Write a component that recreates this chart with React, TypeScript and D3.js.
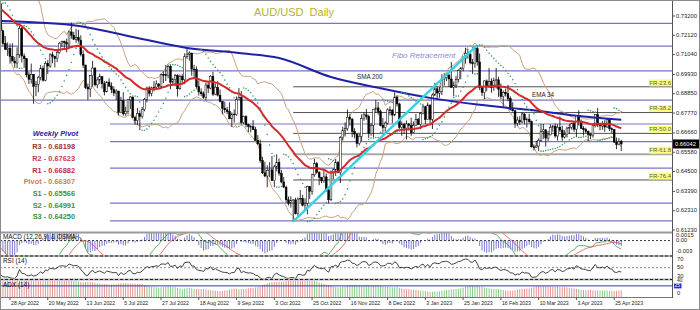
import React from 'react';
import * as d3 from 'd3';

// Daily AUD/USD bars, [open, high, low, close] in 1/10000 units, one array per month
const apr22 = [
  [7388, 7392, 7232, 7237], [7237, 7241, 7155, 7167], [7167, 7208, 7129, 7134], [7134, 7172, 7096, 7140],
  [7140, 7166, 7054, 7094], [7094, 7168, 7067, 7068],
];
const may22 = [
  [7068, 7090, 7030, 7057], [7057, 7145, 7028, 7103], [7103, 7266, 7086, 7250], [7250, 7258, 7060, 7096],
  [7096, 7110, 7030, 7081], [7081, 7083, 6977, 6991], [6991, 7008, 6940, 6966], [6966, 7054, 6942, 6994],
  [6994, 6996, 6829, 6926], [6926, 6956, 6871, 6938], [6938, 6986, 6893, 6977], [6977, 7046, 6960, 7027],
  [7027, 7042, 6953, 6961], [6961, 7068, 6955, 7055], [7055, 7073, 6995, 7040], [7040, 7112, 7030, 7103],
  [7103, 7120, 7056, 7095], [7095, 7098, 7032, 7082], [7082, 7136, 7062, 7117], [7117, 7173, 7110, 7168],
  [7168, 7182, 7147, 7178], [7178, 7183, 7138, 7171],
];
const jun22 = [
  [7171, 7193, 7117, 7163], [7163, 7238, 7138, 7231], [7231, 7283, 7193, 7212], [7212, 7232, 7185, 7190],
  [7190, 7248, 7170, 7200], [7200, 7243, 7175, 7185], [7185, 7212, 7094, 7105], [7105, 7128, 7030, 7046],
  [7046, 7046, 6911, 6920], [6920, 6942, 6850, 6912], [6912, 6990, 6867, 6986], [6986, 7069, 6925, 7029],
  [7029, 7033, 6926, 6935], [6935, 6978, 6916, 6962], [6962, 6997, 6940, 6981], [6981, 6982, 6914, 6941],
  [6941, 6956, 6876, 6896], [6896, 6956, 6893, 6950], [6950, 6971, 6922, 6928], [6928, 6948, 6888, 6909],
  [6909, 6926, 6872, 6889], [6889, 6911, 6850, 6900],
];
const jul22 = [
  [6900, 6902, 6764, 6780], [6780, 6868, 6776, 6846], [6846, 6894, 6762, 6773], [6773, 6812, 6762, 6787],
  [6787, 6855, 6770, 6851], [6851, 6872, 6800, 6867], [6867, 6868, 6750, 6752], [6752, 6762, 6712, 6736],
  [6736, 6805, 6710, 6774], [6774, 6792, 6681, 6758], [6758, 6811, 6747, 6797], [6797, 6862, 6787, 6854],
  [6854, 6925, 6836, 6917], [6917, 6927, 6870, 6888], [6888, 6925, 6871, 6918], [6918, 6956, 6898, 6922],
  [6922, 6960, 6906, 6940], [6940, 6943, 6913, 6927], [6927, 6997, 6911, 6993], [6993, 7010, 6945, 6992],
  [6992, 7046, 6956, 6987],
];
const aug22 = [
  [6987, 7048, 6972, 7038], [7038, 7047, 6910, 6950], [6950, 6975, 6930, 6965], [6965, 6995, 6927, 6987],
  [6987, 6994, 6869, 6913], [6913, 6992, 6907, 6983], [6983, 6995, 6937, 6963], [6963, 7111, 6939, 7092],
  [7092, 7137, 7079, 7107], [7107, 7122, 7070, 7113], [7113, 7113, 6986, 7023], [7023, 7047, 6973, 7020],
  [7020, 7038, 6915, 6925], [6925, 6959, 6875, 6895], [6895, 6915, 6872, 6885], [6885, 6898, 6857, 6865],
  [6865, 6948, 6848, 6934], [6934, 6951, 6888, 6917], [6917, 6989, 6910, 6983], [6983, 7008, 6872, 6883],
  [6883, 6942, 6877, 6922], [6922, 6956, 6870, 6877], [6877, 6909, 6837, 6842],
];
const sep22 = [
  [6842, 6843, 6770, 6804], [6804, 6840, 6778, 6795], [6795, 6811, 6770, 6785], [6785, 6837, 6743, 6745],
  [6745, 6781, 6699, 6771], [6771, 6797, 6724, 6768], [6768, 6870, 6762, 6852], [6852, 6917, 6850, 6865],
  [6865, 6900, 6717, 6724], [6724, 6762, 6715, 6757], [6757, 6765, 6697, 6712], [6712, 6718, 6671, 6701],
  [6701, 6710, 6669, 6701], [6701, 6738, 6682, 6685], [6685, 6700, 6622, 6625], [6625, 6654, 6597, 6605],
  [6605, 6628, 6499, 6512], [6512, 6532, 6436, 6443], [6443, 6505, 6418, 6425], [6425, 6485, 6363, 6457],
  [6457, 6502, 6418, 6459], [6459, 6537, 6397, 6399],
];
const oct22 = [
  [6399, 6488, 6363, 6476], [6476, 6547, 6451, 6502], [6502, 6523, 6427, 6441], [6441, 6459, 6384, 6392],
  [6392, 6420, 6357, 6363], [6363, 6370, 6276, 6292], [6292, 6310, 6260, 6273], [6273, 6311, 6248, 6287],
  [6287, 6296, 6170, 6291], [6291, 6304, 6210, 6214], [6214, 6305, 6202, 6296], [6296, 6346, 6276, 6300],
  [6300, 6320, 6254, 6262], [6262, 6300, 6229, 6272], [6272, 6370, 6211, 6366], [6366, 6368, 6297, 6340],
  [6340, 6438, 6320, 6432], [6432, 6522, 6421, 6494], [6494, 6504, 6438, 6445], [6445, 6452, 6374, 6418],
  [6418, 6420, 6385, 6398],
];
const nov22 = [
  [6398, 6464, 6387, 6420], [6420, 6440, 6338, 6347], [6347, 6360, 6272, 6292], [6292, 6456, 6285, 6447],
  [6447, 6468, 6408, 6460], [6460, 6520, 6425, 6500], [6500, 6509, 6440, 6445], [6445, 6648, 6386, 6640],
  [6640, 6700, 6625, 6680], [6680, 6725, 6646, 6690], [6690, 6797, 6678, 6754], [6754, 6772, 6706, 6743],
  [6743, 6750, 6642, 6674], [6674, 6692, 6636, 6660], [6660, 6662, 6585, 6607], [6607, 6660, 6596, 6647],
  [6647, 6770, 6620, 6747], [6747, 6782, 6734, 6767], [6767, 6800, 6740, 6758], [6758, 6768, 6637, 6662],
  [6662, 6722, 6650, 6708], [6708, 6800, 6640, 6798],
];
const dec22 = [
  [6798, 6851, 6780, 6806], [6806, 6839, 6768, 6785], [6785, 6797, 6703, 6708], [6708, 6750, 6668, 6697],
  [6697, 6731, 6669, 6721], [6721, 6804, 6712, 6795], [6795, 6814, 6764, 6792], [6792, 6800, 6720, 6766],
  [6766, 6893, 6759, 6866], [6866, 6876, 6813, 6828], [6828, 6835, 6688, 6697], [6697, 6730, 6650, 6713],
  [6713, 6723, 6661, 6693], [6693, 6736, 6629, 6716], [6716, 6722, 6680, 6708], [6708, 6751, 6650, 6668],
  [6668, 6730, 6664, 6707], [6707, 6772, 6705, 6741], [6741, 6749, 6710, 6713], [6713, 6781, 6687, 6774],
  [6774, 6829, 6770, 6812],
];
const jan23 = [
  [6812, 6818, 6716, 6740], [6740, 6836, 6739, 6822], [6822, 6825, 6716, 6742], [6742, 6887, 6688, 6878],
  [6878, 6946, 6872, 6913], [6913, 6925, 6854, 6889], [6889, 6923, 6863, 6899], [6899, 6994, 6878, 6968],
  [6968, 7000, 6930, 6976], [6976, 7000, 6955, 6990], [6990, 6994, 6923, 6968], [6968, 7063, 6918, 6921],
  [6921, 6953, 6872, 6933], [6933, 6985, 6917, 6966], [6966, 7022, 6948, 7014], [7014, 7035, 6966, 7028],
  [7028, 7095, 7011, 7083], [7083, 7142, 7053, 7111], [7111, 7137, 7081, 7107], [7107, 7112, 7050, 7060],
  [7060, 7080, 6996, 7053],
];
const feb23 = [
  [7053, 7144, 7030, 7137], [7137, 7157, 7042, 7063], [7063, 7110, 6905, 6920], [6920, 6925, 6872, 6892],
  [6892, 6960, 6855, 6957], [6957, 6965, 6899, 6927], [6927, 7029, 6917, 6953], [6953, 6972, 6891, 6921],
  [6921, 6975, 6902, 6961], [6961, 7030, 6915, 6963], [6963, 6980, 6868, 6911], [6911, 6943, 6855, 6870],
  [6870, 6903, 6811, 6893], [6893, 6913, 6870, 6885], [6885, 6935, 6843, 6858], [6858, 6871, 6792, 6798],
  [6798, 6838, 6785, 6790], [6790, 6793, 6695, 6720], [6720, 6757, 6704, 6738], [6738, 6760, 6711, 6727],
];
const mar23 = [
  [6727, 6783, 6720, 6772], [6772, 6776, 6713, 6739], [6739, 6752, 6696, 6743], [6743, 6773, 6718, 6729],
  [6729, 6735, 6584, 6588], [6588, 6601, 6568, 6586], [6586, 6622, 6583, 6593], [6593, 6636, 6564, 6625],
  [6625, 6717, 6616, 6675], [6675, 6716, 6633, 6683], [6683, 6688, 6590, 6637], [6637, 6677, 6620, 6655],
  [6655, 6714, 6653, 6697], [6697, 6711, 6672, 6704], [6704, 6719, 6639, 6649], [6649, 6715, 6623, 6698],
  [6698, 6758, 6670, 6682], [6682, 6706, 6621, 6643], [6643, 6681, 6635, 6656], [6656, 6701, 6640, 6693],
  [6693, 6716, 6661, 6697], [6697, 6723, 6684, 6718], [6718, 6729, 6672, 6687],
];
const apr23 = [
  [6687, 6764, 6641, 6759], [6759, 6793, 6707, 6730], [6730, 6741, 6688, 6692], [6692, 6704, 6652, 6685],
  [6685, 6695, 6664, 6674], [6674, 6680, 6620, 6656], [6656, 6667, 6631, 6654], [6654, 6712, 6640, 6706],
  [6706, 6771, 6697, 6768], [6768, 6806, 6698, 6711], [6711, 6723, 6680, 6705], [6705, 6733, 6683, 6720],
  [6720, 6737, 6672, 6699], [6699, 6748, 6694, 6742], [6742, 6746, 6676, 6690], [6690, 6697, 6665, 6684],
  [6684, 6688, 6610, 6615], [6615, 6640, 6575, 6600], [6600, 6637, 6596, 6618], [6618, 6628, 6564, 6604.2],
];

// Closes of the sessions before the first drawn bar (feed the band / oscillator windows)
const warmupCloses = [7487, 7517, 7510, 7483, 7486, 7572, 7615, 7543, 7482, 7459, 7430, 7462, 7447, 7400, 7400, 7379, 7354, 7441, 7388];

// 200-day SMA, [bar index, value]
const sma200Points = [
  [0, 0.7292], [30, 0.7270], [56, 0.7203], [79, 0.7141], [101, 0.7113], [118, 0.7085], [140, 0.6979],
  [161, 0.6916], [182, 0.6862], [203, 0.6823], [224, 0.6795], [245, 0.6761], [263, 0.6739],
];
const emaSeed = 0.736;

const dateLabels = [
  '28 Apr 2022', '20 May 2022', '13 Jun 2022', '5 Jul 2022', '27 Jul 2022', '18 Aug 2022', '9 Sep 2022',
  '3 Oct 2022', '25 Oct 2022', '16 Nov 2022', '8 Dec 2022', '3 Jan 2023', '25 Jan 2023', '16 Feb 2023',
  '10 Mar 2023', '3 Apr 2023', '25 Apr 2023',
];
const firstLabelBar = 4;
const barsPerLabel = 16;

const priceTicks = [0.732, 0.7212, 0.7104, 0.6993, 0.6885, 0.6777, 0.6666, 0.6558, 0.645, 0.6339, 0.6231, 0.6123];
const levelLines = [0.7279, 0.7152, 0.7013, 0.685, 0.6716, 0.6617, 0.6469, 0.6273, 0.6174];
const fiboLevels = [23.6, 38.2, 50.0, 61.8, 76.4];
const fiboLowBar = 124;
const fiboHighBar = 202;

const pivotNames = ['R3', 'R2', 'R1', 'Pivot', 'S1', 'S2', 'S3'];
const pivotValues = ['0.68198', '0.67623', '0.66882', '0.66307', '0.65566', '0.64991', '0.64250'];
const pivotColors = ['#9a3434', '#c8385a', '#c42848', '#e07a3c', '#3b933b', '#3b933b', '#3b933b'];

const macdTicks = [['0.0015', 0.0015], ['0.00', 0], ['-0.003', -0.003]];
const rsiTicks = [70, 50, 30];
const adxLevel = 25;

const FONT = 'Liberation Sans, Arial, sans-serif';
const PLOT_R = 672;

const allBars = [...apr22, ...may22, ...jun22, ...jul22, ...aug22, ...sep22, ...oct22, ...nov22, ...dec22, ...jan23, ...feb23, ...mar23, ...apr23]
  .map(([o, h, l, c], i) => ({ i, o: o / 1e4, h: h / 1e4, l: l / 1e4, c: c / 1e4 }));
const N = allBars.length;
const closes = allBars.map(b => b.c);
const fullCloses = [...warmupCloses.map(v => v / 1e4), ...closes];
const W0 = warmupCloses.length;

// EMA 34
const ema34: number[] = [];
{
  const k = 2 / 35;
  let e = emaSeed;
  closes.forEach((c, i) => { e = i === 0 ? e : e + k * (c - e); ema34.push(e); });
}

// Bollinger bands (20, 2)
const bbUpper: number[] = [];
const bbLower: number[] = [];
for (let i = 0; i < N; i++) {
  const j = i + W0;
  const win = fullCloses.slice(Math.max(0, j - 19), j + 1);
  const m = d3.mean(win)!;
  const sd = Math.sqrt(d3.mean(win.map(v => (v - m) ** 2))!);
  bbUpper.push(m + 2 * sd);
  bbLower.push(m - 2 * sd);
}

// Parabolic SAR (0.02, 0.2)
const sar: number[] = [];
{
  let up = false, af = 0.02, ep = allBars[0].l, s = allBars[0].h;
  sar.push(s);
  for (let i = 1; i < N; i++) {
    const b = allBars[i], p = allBars[i - 1], pp = allBars[Math.max(0, i - 2)];
    s = s + af * (ep - s);
    if (up) {
      s = Math.min(s, p.l, pp.l);
      if (b.l < s) { up = false; s = ep; ep = b.l; af = 0.02; }
      else if (b.h > ep) { ep = b.h; af = Math.min(af + 0.02, 0.2); }
    } else {
      s = Math.max(s, p.h, pp.h);
      if (b.h > s) { up = true; s = ep; ep = b.h; af = 0.02; }
      else if (b.l < ep) { ep = b.l; af = Math.min(af + 0.02, 0.2); }
    }
    sar.push(s);
  }
}

// MACD (12, 26, 9) and OsMA
const macd: number[] = [];
const signal: number[] = [];
const osma: number[] = [];
{
  let e12 = fullCloses[0], e26 = fullCloses[0];
  const m: number[] = [];
  fullCloses.forEach((c, i) => {
    if (i > 0) { e12 += (2 / 13) * (c - e12); e26 += (2 / 27) * (c - e26); }
    m.push(e12 - e26);
  });
  m.forEach((v, i) => {
    if (i < W0) return;
    const sg = d3.mean(m.slice(i - 8, i + 1))!;
    macd.push(v); signal.push(sg); osma.push(v - sg);
  });
}

// RSI 14 (Wilder)
const rsi: number[] = [];
{
  let ag = 0, al = 0;
  for (let i = 1; i <= 14; i++) {
    const d = fullCloses[i] - fullCloses[i - 1];
    ag += Math.max(d, 0) / 14; al += Math.max(-d, 0) / 14;
  }
  const r: number[] = [];
  for (let i = 15; i < fullCloses.length; i++) {
    const d = fullCloses[i] - fullCloses[i - 1];
    ag = (ag * 13 + Math.max(d, 0)) / 14; al = (al * 13 + Math.max(-d, 0)) / 14;
    r[i] = 100 - 100 / (1 + ag / (al || 1e-9));
  }
  for (let i = 0; i < N; i++) rsi.push(r[i + W0]);
}

// ADX 14 with +DI / -DI direction
const adx: number[] = [];
const adxUp: boolean[] = [];
{
  let str = 0, sp = 0, sn = 0, a = 0;
  for (let i = 0; i < N; i++) {
    if (i === 0) { adx.push(20); adxUp.push(false); continue; }
    const b = allBars[i], p = allBars[i - 1];
    const tr = Math.max(b.h - b.l, Math.abs(b.h - p.c), Math.abs(b.l - p.c));
    const upM = b.h - p.h, dnM = p.l - b.l;
    const pdm = upM > dnM && upM > 0 ? upM : 0;
    const ndm = dnM > upM && dnM > 0 ? dnM : 0;
    if (i === 1) { str = tr * 14; sp = pdm * 14; sn = ndm * 14; }
    else { str = str - str / 14 + tr; sp = sp - sp / 14 + pdm; sn = sn - sn / 14 + ndm; }
    const pdi = 100 * sp / str, ndi = 100 * sn / str;
    const dx = 100 * Math.abs(pdi - ndi) / (pdi + ndi || 1);
    a = i === 1 ? dx : (a * 13 + dx) / 14;
    adx.push(a); adxUp.push(pdi > ndi);
  }
}

const x = d3.scaleLinear().domain([0, 263]).range([0.56, 0.56 + 263 * 2.36]);
const y = d3.scaleLinear().domain([0.6123, 0.732]).range([230, 16]);
const macdY = d3.scaleLinear().domain([0, -0.003]).range([240.6, 251.6]);
const rsiY = d3.scaleLinear().domain([30, 70]).range([276.2, 259.2]);
const adxY = d3.scaleLinear().domain([0, 36]).range([297, 281]);

const lineIdx = (vals: number[], sy: (v: number) => number) =>
  d3.line<number>().x((_, i) => x(i)).y(v => sy(v)).defined(v => v !== undefined && !isNaN(v))(vals) || '';

export default function App() {
  const fLow = allBars[fiboLowBar].l;
  const fHigh = allBars[fiboHighBar].h;
  const lastClose = allBars[N - 1].c;
  const smaPath = d3.line<number[]>().x(d => x(d[0])).y(d => y(d[1])).curve(d3.curveMonotoneX)(sma200Points) || '';

  return (
    <svg width={700} height={310} style={{ position: 'absolute', left: 0, top: 0, background: '#fff' }} fontFamily={FONT}>
      <defs>
        <clipPath id="cMain"><rect x={0} y={0} width={PLOT_R} height={232} /></clipPath>
        <clipPath id="cMacd"><rect x={0} y={233} width={PLOT_R} height={22.5} /></clipPath>
        <clipPath id="cRsi"><rect x={0} y={257} width={PLOT_R} height={22} /></clipPath>
        <clipPath id="cAdx"><rect x={0} y={280.5} width={PLOT_R} height={16.5} /></clipPath>
      </defs>
      <rect x={0} y={0} width={700} height={310} fill="#fff" />

      <g clipPath="url(#cMain)">
        {levelLines.map((p, k) => (
          <line key={k} x1={0} x2={PLOT_R} y1={y(p)} y2={y(p)} stroke="#7575c4" strokeWidth={1.2} />
        ))}
        {fiboLevels.map((lv, k) => {
          const p = fHigh - (lv / 100) * (fHigh - fLow);
          const thick = lv === 61.8;
          return (
            <line key={k} x1={x(fiboLowBar)} x2={PLOT_R} y1={y(p)} y2={y(p)}
              stroke={thick ? '#a8a8a8' : '#505050'} strokeWidth={thick ? 2 : 1} />
          );
        })}
        <rect x={0} y={118} width={110} height={110} fill="#fff" />

        <path d={lineIdx(bbUpper, y)} fill="none" stroke="#c9a27c" strokeWidth={1} />
        <path d={lineIdx(bbLower, y)} fill="none" stroke="#c9a27c" strokeWidth={1} />

        {allBars.map(b => {
          const bull = b.c >= b.o;
          const top = y(Math.max(b.o, b.c));
          const h = Math.max(0.7, Math.abs(y(b.o) - y(b.c)));
          return (
            <g key={b.i}>
              <line x1={x(b.i)} x2={x(b.i)} y1={y(b.h)} y2={y(b.l)} stroke="#000" strokeWidth={0.8} />
              <rect x={x(b.i) - 0.9} y={top} width={1.8} height={h}
                fill={bull ? '#fff' : '#000'} stroke="#000" strokeWidth={0.5} />
            </g>
          );
        })}

        <path d={smaPath} fill="none" stroke="#1f22a6" strokeWidth={2} />
        <path d={lineIdx(ema34, y)} fill="none" stroke="#d62a2a" strokeWidth={2} />
        {sar.map((s, i) => (
          <circle key={i} cx={x(i)} cy={y(s)} r={0.8} fill="#3c9c6a" />
        ))}
        <line x1={x(fiboLowBar)} y1={y(fLow)} x2={x(fiboHighBar)} y2={y(fHigh)} stroke="#34d2e4" strokeWidth={2.4} />
      </g>

      {/* chart captions */}
      <text x={254} y={13} fontSize={11} fill="#b3b32c" dominantBaseline="middle" style={{ whiteSpace: 'pre' }}>AUD/USD  Daily</text>
      <text x={392} y={56} fontSize={8} fontStyle="italic" fill="#8a8ad8" dominantBaseline="middle">Fibo Retracement</text>
      <text x={357} y={77.5} fontSize={6.3} fill="#222" dominantBaseline="middle">SMA 200</text>
      <text x={532} y={95} fontSize={6.3} fill="#222" dominantBaseline="middle">EMA 34</text>

      {/* weekly pivot table */}
      <text x={55.5} y={134.3} fontSize={7.4} fontWeight="bold" fontStyle="italic" fill="#24249c" textAnchor="middle" dominantBaseline="middle">Weekly Pivot</text>
      <line x1={32} x2={79} y1={139.5} y2={139.5} stroke="#b0b0b0" strokeWidth={0.8} />
      {pivotNames.map((n, k) => (
        <text key={n} x={75} y={147.3 + k * 11.67} fontSize={7.4} fontWeight="bold" fill={pivotColors[k]}
          textAnchor="end" dominantBaseline="middle">{`${n} - ${pivotValues[k]}`}</text>
      ))}

      {/* fibo level tags */}
      {fiboLevels.map((lv, k) => {
        const p = fHigh - (lv / 100) * (fHigh - fLow);
        const yy = y(p);
        return (
          <g key={k}>
            <rect x={649} y={yy - 7.5} width={23} height={7} fill="#ffff7a" />
            <text x={671} y={yy - 3.8} fontSize={6} fill="#555" textAnchor="end" dominantBaseline="middle">{`FR-${lv.toFixed(1)}`}</text>
          </g>
        );
      })}

      {/* MACD panel */}
      <g clipPath="url(#cMacd)">
        {osma.map((v, i) => (
          <line key={i} x1={x(i)} x2={x(i)} y1={macdY(0)} y2={macdY(v)} stroke="#7a7ad6" strokeWidth={1} />
        ))}
        <line x1={0} x2={PLOT_R} y1={macdY(0)} y2={macdY(0)} stroke="#000" strokeWidth={0.8} strokeDasharray="2,2" />
        <path d={lineIdx(macd, macdY)} fill="none" stroke="#3aa03a" strokeWidth={0.8} />
        <path d={lineIdx(signal, macdY)} fill="none" stroke="#d85050" strokeWidth={0.8} />
      </g>
      <text x={3} y={237.5} fontSize={6.4} fill="#111" dominantBaseline="middle">MACD (12,26,9) &amp; OSMA</text>

      {/* RSI panel */}
      <g clipPath="url(#cRsi)">
        <line x1={0} x2={PLOT_R} y1={rsiY(50)} y2={rsiY(50)} stroke="#666" strokeWidth={0.8} strokeDasharray="2,2" />
        <path d={lineIdx(rsi, rsiY)} fill="none" stroke="#111" strokeWidth={0.8} />
      </g>
      <text x={3} y={261} fontSize={6.4} fill="#111" dominantBaseline="middle">RSI (14)</text>

      {/* ADX panel */}
      <g clipPath="url(#cAdx)">
        {adx.map((v, i) => (
          <line key={i} x1={x(i)} x2={x(i)} y1={adxY(0)} y2={adxY(v)} stroke={adxUp[i] ? '#86cc86' : '#e49494'} strokeWidth={1} />
        ))}
        <line x1={0} x2={PLOT_R} y1={adxY(adxLevel)} y2={adxY(adxLevel)} stroke="#3434b4" strokeWidth={1} />
      </g>
      <text x={3} y={285} fontSize={6.4} fill="#111" dominantBaseline="middle">ADX (14)</text>

      {/* panel separators */}
      <line x1={0} x2={PLOT_R} y1={232.5} y2={232.5} stroke="#9a9a9a" strokeWidth={2} />
      {[256, 279.5].map((yy, k) => (
        <g key={k}>
          <line x1={0} x2={PLOT_R} y1={yy} y2={yy} stroke="#b0b0b0" strokeWidth={2} />
          <line x1={0} x2={PLOT_R} y1={yy} y2={yy} stroke="#222" strokeWidth={1} strokeDasharray="3,2" />
        </g>
      ))}
      <line x1={0} x2={PLOT_R} y1={297.5} y2={297.5} stroke="#777" strokeWidth={1} />

      {/* right axis */}
      <line x1={PLOT_R + 0.5} x2={PLOT_R + 0.5} y1={0} y2={298} stroke="#555" strokeWidth={1} />
      {priceTicks.map((p, k) => (
        <g key={k}>
          <line x1={PLOT_R} x2={PLOT_R + 3} y1={y(p)} y2={y(p)} stroke="#555" />
          <text x={676} y={y(p)} fontSize={5.8} fill="#222" dominantBaseline="middle">{p.toFixed(5)}</text>
        </g>
      ))}
      <rect x={673} y={y(lastClose) - 4.5} width={27} height={9} fill="#000" />
      <text x={675} y={y(lastClose)} fontSize={5.8} fill="#fff" dominantBaseline="middle">{lastClose.toFixed(5)}</text>

      {macdTicks.map(([t, v]) => (
        <text key={t as string} x={676} y={macdY(v as number)} fontSize={5.8} fill="#222" dominantBaseline="middle">{t}</text>
      ))}
      {rsiTicks.map(v => (
        <text key={v} x={677} y={rsiY(v)} fontSize={5.8} fill="#222" dominantBaseline="middle">{v}</text>
      ))}
      <text x={677} y={281} fontSize={5} fill="#222" dominantBaseline="middle">40</text>
      <rect x={674} y={adxY(adxLevel) - 2.5} width={7.5} height={5} fill="#2a2ad0" />
      <text x={674.6} y={adxY(adxLevel)} fontSize={4.8} fill="#fff" dominantBaseline="middle">{adxLevel}</text>
      <text x={677} y={293.5} fontSize={5.8} fill="#222" dominantBaseline="middle">0</text>

      {/* time axis */}
      {dateLabels.map((d, k) => {
        const xi = x(firstLabelBar + k * barsPerLabel);
        return (
          <g key={d}>
            <line x1={xi} x2={xi} y1={297.5} y2={300} stroke="#555" />
            <text x={xi + 1} y={303.5} fontSize={5.2} fill="#222" dominantBaseline="middle">{d}</text>
          </g>
        );
      })}

      <rect x={0.5} y={0.5} width={699} height={309} fill="none" stroke="#8a8a8a" />
    </svg>
  );
}
